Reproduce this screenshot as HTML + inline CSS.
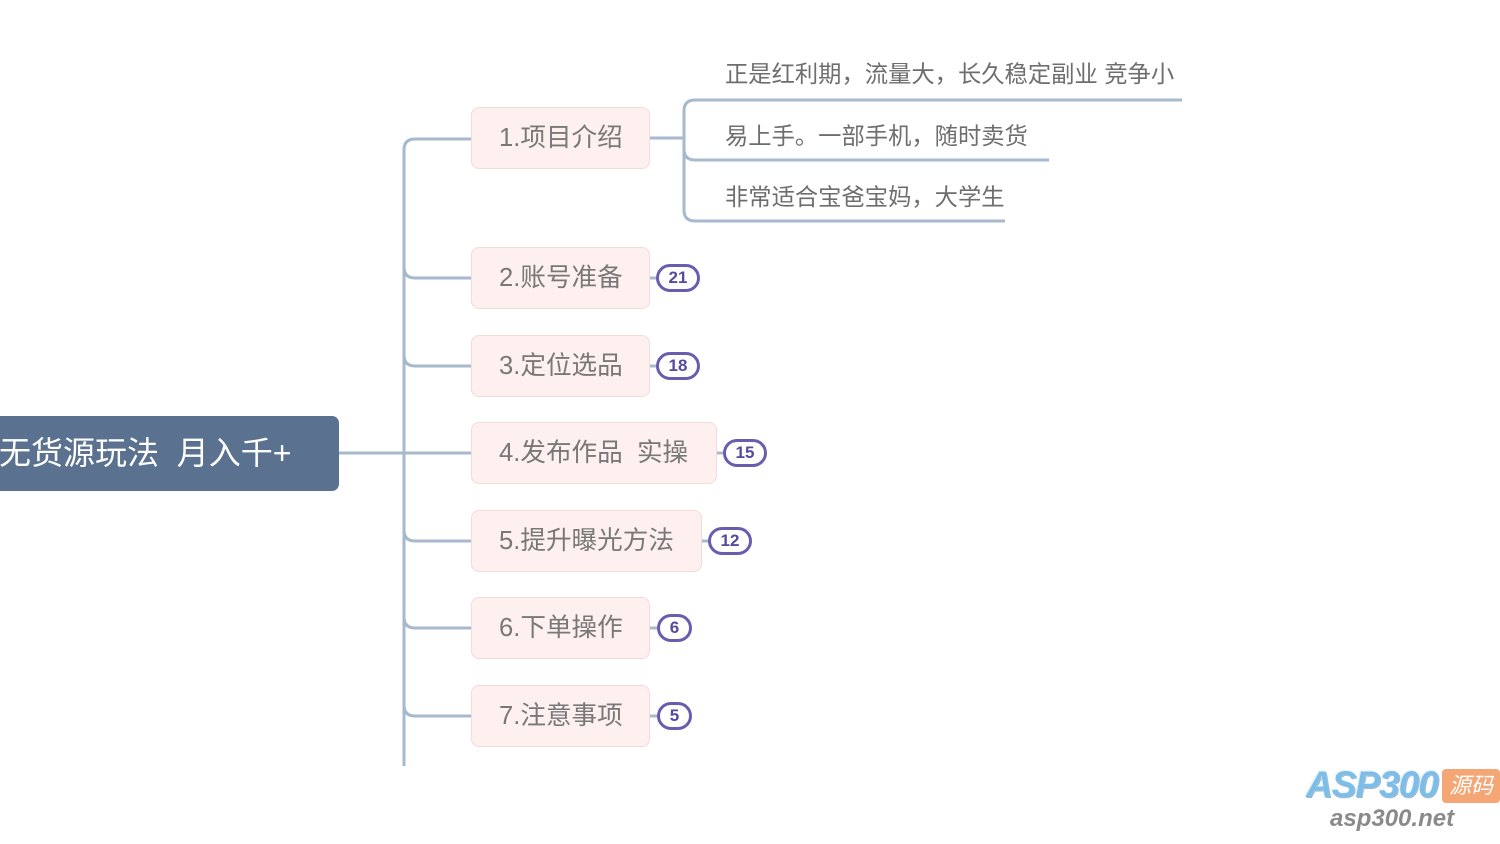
<!DOCTYPE html>
<html>
<head>
<meta charset="utf-8">
<style>
  html,body{margin:0;padding:0;}
  body{width:1500px;height:844px;position:relative;overflow:hidden;background:#ffffff;
    font-family:"Liberation Sans","Noto Sans CJK SC",sans-serif;}
  svg.lines{position:absolute;left:0;top:0;}
  .root{position:absolute;left:-10px;top:416px;width:349px;height:75px;background:#5a7190;border-radius:7px;
    color:#fff;font-size:32px;line-height:75px;white-space:pre;}
  .root span{position:absolute;left:9px;top:0;}
  .node{position:absolute;left:471px;height:62px;background:#fdf0ee;border:1.5px solid #f1dcd8;border-radius:8px;
    box-sizing:border-box;color:#787878;font-size:25.6px;line-height:61px;white-space:pre;padding-left:27px;}
  .badge{position:absolute;height:28px;border:3px solid #6a5db0;border-radius:14px;box-sizing:border-box;
    color:#57499c;font-weight:bold;font-size:17px;line-height:22px;text-align:center;font-family:"Liberation Sans",sans-serif;}
  .child{position:absolute;left:725px;color:#6e6e6e;font-size:23.3px;white-space:pre;line-height:30px;}
  .wm1{position:absolute;left:1306px;top:764px;font-size:37px;font-weight:bold;font-style:italic;color:#7fbde9;
    letter-spacing:-1px;text-shadow:0 0 2px #fff,1px 1px 0 #6a9cc4,-1px -1px 0 #d8f0ff;font-family:"Liberation Sans",sans-serif;}
  .wm2{position:absolute;left:1442px;top:769px;width:58px;height:34px;background:#f4a774;border-radius:4px;color:#fff;
    font-size:22px;line-height:34px;text-align:center;font-style:italic;}
  .wm3{position:absolute;left:1330px;top:805px;font-size:24px;font-weight:bold;font-style:italic;color:#8a8a8a;
    font-family:"Liberation Sans",sans-serif;}
</style>
</head>
<body>
<svg class="lines" width="1500" height="844" viewBox="0 0 1500 844">
  <g fill="none" stroke="#a7b9cc" stroke-width="3">
    <path d="M339,453 H471"/>
    <path d="M471,139 H415 Q404,139 404,150 V766"/>
    <path d="M404,267 Q404,278 415,278 H471"/>
    <path d="M404,355 Q404,366 415,366 H471"/>
    <path d="M404,530 Q404,541 415,541 H471"/>
    <path d="M404,617 Q404,628 415,628 H471"/>
    <path d="M404,705 Q404,716 415,716 H471"/>
    <path d="M650,138 H684"/>
    <path d="M1182,100 H695 Q684,100 684,111 V210 Q684,221 695,221 H1005"/>
    <path d="M684,149 Q684,160 695,160 H1049"/>
    <path d="M650,278 H658"/>
    <path d="M650,366 H658"/>
    <path d="M717,453 H725"/>
    <path d="M702,541 H710"/>
    <path d="M650,628 H658"/>
    <path d="M650,716 H658"/>
  </g>
</svg>

<div class="root"><span>无货源玩法  月入千+</span></div>

<div class="node" style="top:107px;width:179px;">1.项目介绍</div>
<div class="node" style="top:247px;width:179px;">2.账号准备</div>
<div class="node" style="top:335px;width:179px;">3.定位选品</div>
<div class="node" style="top:422px;width:246px;">4.发布作品  实操</div>
<div class="node" style="top:510px;width:231px;">5.提升曝光方法</div>
<div class="node" style="top:597px;width:179px;">6.下单操作</div>
<div class="node" style="top:685px;width:179px;">7.注意事项</div>

<div class="badge" style="left:656px;top:264px;width:44px;">21</div>
<div class="badge" style="left:656px;top:352px;width:44px;">18</div>
<div class="badge" style="left:723px;top:439px;width:44px;">15</div>
<div class="badge" style="left:708px;top:527px;width:44px;">12</div>
<div class="badge" style="left:657px;top:614px;width:35px;">6</div>
<div class="badge" style="left:657px;top:702px;width:35px;">5</div>

<div class="child" style="top:59px;">正是红利期，流量大，长久稳定副业 竞争小</div>
<div class="child" style="top:121px;">易上手。一部手机，随时卖货</div>
<div class="child" style="top:182px;">非常适合宝爸宝妈，大学生</div>

<div class="wm1">ASP300</div>
<div class="wm2">源码</div>
<div class="wm3">asp300.net</div>
</body>
</html>
